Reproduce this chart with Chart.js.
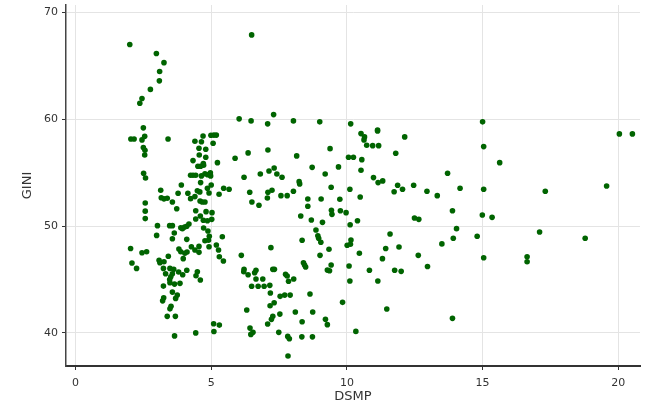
<!DOCTYPE html>
<html>
<head>
<meta charset="utf-8">
<script src="https://cdn.jsdelivr.net/npm/chart.js@4/dist/chart.umd.min.js"></script>
<style>
  body { margin: 0; background: #fff; }
  #wrap { width: 660px; height: 404px; }
</style>
</head>
<body>
<div id="wrap"><canvas id="chartCanvas" width="660" height="404"></canvas></div>
<script>
// DSMP (x) og GINI (y)
let dsmp = [
  2.0, 2.98, 3.26, 3.10, 3.09, 2.76, 2.45, 2.37, 2.50, 6.49, 6.03, 6.47, 7.08, 7.30, 8.03, 9.0, 10.14, 11.13, 15.0,
  2.04, 2.16, 2.45, 2.55, 2.5, 2.56, 2.55, 2.51, 2.58, 2.57, 2.57, 2.57, 2.03,
  3.41, 4.40, 4.70, 4.99, 5.10, 5.19, 4.64, 5.07, 4.55, 4.80, 4.56, 4.80, 4.33, 4.71, 5.23, 4.51, 4.61, 4.72,
  4.24, 4.33, 4.43, 4.64, 4.77, 4.87, 4.97, 4.98, 4.61, 5.0, 3.90, 5.46, 3.14, 3.78, 4.14, 4.49, 4.58, 4.86,
  4.92, 5.29, 4.40, 4.24, 3.16, 3.26, 3.38, 3.57, 4.59, 4.67, 4.77, 3.73, 4.43, 4.81, 5.03, 4.60, 4.43, 4.71,
  4.86, 5.02, 4.18, 4.02, 4.10, 3.88, 3.94, 3.47, 3.57, 3.02, 4.88, 4.72, 2.99, 3.57, 3.64, 4.10, 4.77, 4.90,
  4.93, 5.41, 4.27, 3.81, 4.55, 4.92, 5.19,
  5.66, 5.88, 6.36, 7.09, 8.15, 8.72, 9.2, 6.21, 6.81, 7.13, 7.32, 7.42, 7.61, 8.24, 8.26, 6.42, 7.09, 7.24,
  7.07, 7.57, 7.80, 8.03, 6.5, 6.76, 8.56, 9.05, 8.56, 8.30, 8.69, 9.1, 8.86, 8.93, 8.96, 9.04, 8.35, 7.2,
  10.52, 10.65, 10.63, 11.13, 12.13, 10.73, 10.95, 11.17, 9.38, 11.80, 10.06, 10.24, 10.55, 9.69, 10.52,
  10.98, 11.15, 11.32, 11.87, 12.46, 11.74, 12.05, 9.42, 10.11, 10.49, 9.74, 9.43, 9.45, 9.76, 9.97, 10.39,
  10.12, 12.49, 12.65, 11.59, 10.15, 10.13, 10.01, 11.43, 11.92, 9.34,
  15.04, 15.63, 13.71, 12.95, 13.33, 14.17, 15.04, 17.31, 19.57, 20.04, 20.52, 13.89, 14.99, 15.35, 14.04,
  13.92, 13.5, 14.8, 17.10, 18.78,
  2.45, 2.08, 2.25,
  2.62, 3.42, 3.08, 3.11, 3.26, 3.88, 4.03, 4.11, 4.40, 4.55, 3.97, 5.27, 5.30, 5.45, 3.24, 3.32, 3.48, 3.62,
  3.57, 3.51, 3.47, 3.48, 3.65, 3.85, 3.80, 3.95, 4.10, 4.49, 4.44, 4.60, 3.24, 3.57, 3.75, 3.69, 3.25, 3.21,
  3.52, 3.48, 3.38, 3.68, 3.65, 4.43, 5.09, 5.30, 5.10,
  6.11, 9.01, 10.46, 11.31, 6.21, 6.20, 6.36, 6.60, 6.65, 7.27, 7.33, 7.74, 7.80, 7.85, 8.04, 8.40, 8.44, 8.48,
  9.28, 9.36, 9.42, 10.08, 10.83, 10.11, 11.14, 6.65, 6.90, 6.49, 6.73, 6.95, 7.16, 7.18, 7.54, 7.71, 7.91,
  8.64, 9.84, 7.32, 7.17, 6.31, 7.53, 8.10, 8.74, 7.27, 7.22, 7.08, 8.35, 9.21, 9.28, 6.43, 6.54, 6.46, 7.49,
  7.82, 7.88, 8.34, 8.73, 10.33, 7.83,
  12.63, 11.76, 12.0, 12.97, 15.04, 16.64, 16.64, 11.47, 13.89
]
let gini = [
  67.0, 66.16, 65.3, 64.47, 63.6, 62.8, 61.94, 61.5, 59.2, 67.9, 60.04, 59.85, 59.57, 60.44, 59.85, 59.76, 59.57, 59.0, 59.76,
  58.16, 58.16, 58.07, 58.4, 57.35, 57.1, 56.66, 54.95, 54.5, 52.16, 51.4, 50.7, 47.9,
  58.16, 57.95, 58.44, 58.5, 58.52, 58.52, 57.9, 57.76, 57.29, 57.2, 56.66, 56.45, 56.13, 55.85, 55.94, 55.6, 55.6, 55.7,
  54.76, 54.76, 54.76, 54.7, 54.9, 54.8, 55.0, 54.7, 54.07, 53.85, 53.85, 53.54, 53.36, 53.07, 53.07, 53.3, 53.2, 53.54,
  53.1, 52.98, 52.76, 52.57, 52.65, 52.55, 52.6, 52.26, 52.35, 52.26, 52.26, 51.63, 51.44, 51.35, 51.26, 50.95, 50.66, 50.54,
  50.5, 50.63, 50.2, 49.92, 49.98, 49.85, 49.76, 50.04, 50.04, 50.04, 49.54, 49.82, 49.13, 48.82, 49.35, 48.76, 48.62, 48.68,
  49.05, 49.0, 48.07, 47.85, 48.1, 48.07, 48.23,
  53.45, 56.35, 56.85, 57.13, 56.57, 55.5, 54.88, 54.57, 54.88, 55.16, 55.44, 54.88, 54.57, 54.16, 53.95, 53.17, 53.17, 53.36,
  52.63, 52.85, 52.85, 53.26, 52.26, 51.95, 52.54, 52.54, 51.86, 50.95, 50.57, 50.35, 49.63, 49.1, 48.85, 48.48, 48.67, 47.98,
  58.66, 58.35, 58.07, 58.9, 58.35, 57.57, 57.53, 57.53, 57.25, 56.82, 56.45, 56.45, 56.22, 55.54, 55.23,
  54.54, 54.07, 54.23, 53.82, 53.82, 53.22, 53.45, 53.64, 53.45, 52.73, 52.51, 51.48, 51.1, 51.44, 51.26, 50.5,
  50.13, 50.76, 50.63, 49.26, 48.7, 48.3, 48.2, 47.9, 48.04, 47.83,
  57.44, 55.94, 54.95, 53.26, 52.85, 53.54, 53.45, 53.26, 53.76, 58.63, 58.63, 51.44, 51.04, 50.82, 49.76,
  48.86, 48.33, 49.05, 49.45, 48.86,
  47.5, 46.54, 46.04,
  47.6, 47.17, 46.8, 46.57, 46.66, 47.6, 47.45, 47.57, 47.76, 47.54, 46.95, 47.76, 47.13, 46.73, 46.04, 45.54, 46.04, 45.95,
  45.54, 45.26, 45.0, 44.7, 44.57, 44.64, 45.7, 45.45, 45.86, 45.73, 45.35, 44.95, 44.38, 43.82, 43.54, 43.23, 43.29, 43.0,
  42.5, 42.25, 41.55, 41.55, 39.72, 40.0, 40.85, 40.73, 40.13,
  47.26, 47.26, 47.45, 46.95, 45.95, 45.73, 45.44, 45.63, 45.86, 45.95, 45.95, 45.48, 45.32, 44.83, 45.04, 46.57, 46.35, 46.17,
  45.88, 45.82, 46.35, 46.26, 45.86, 44.86, 44.86, 45.04, 45.04, 44.36, 44.36, 44.36, 44.45, 43.73, 43.42, 43.54, 43.54,
  43.64, 42.86, 42.82, 42.54, 42.14, 41.76, 41.95, 41.95, 41.55, 41.27, 40.83, 41.04, 41.27, 40.77, 40.45, 40.05, 39.86, 40.05,
  39.67, 39.45, 39.63, 39.63, 40.14, 37.83,
  47.26, 45.86, 45.76, 46.22, 47.03, 47.13, 46.66, 42.23, 41.36
]
let xTicks = [0, 5, 10, 15, 20]
let yTicks = [40, 50, 60, 70]

let chart

function setup() {
  let points = dsmp.map((x, i) => ({ x: x, y: gini[i] }))
  showChart(points)
}

function showChart(points) {
  chart && chart.destroy()
  chart = new Chart(document.getElementById('chartCanvas'), {
    type: 'scatter',
    data: {
      datasets: [{
        label: 'GINI',
        data: points,
        backgroundColor: '#006400',
        borderColor: '#006400',
        borderWidth: 0,
        pointRadius: 2.8
      }]
    },
    options: {
      responsive: false,
      animation: false,
      layout: { padding: { top: 5, right: 20, left: 0, bottom: 0 } },
      plugins: {
        legend: { display: false },
        tooltip: { enabled: false }
      },
      scales: {
        x: {
          type: 'linear',
          min: -0.35,
          max: 20.8,
          afterBuildTicks: s => { s.ticks = xTicks.map(v => ({ value: v })) },
          afterFit: s => { s.height = 38; s.paddingLeft = 0; s.paddingRight = 0 },
          grid: { color: '#e4e4e4', tickColor: '#333', tickLength: 4 },
          border: { color: '#333', width: 2 },
          ticks: { color: '#333', font: { family: 'DejaVu Sans', size: 11 }, padding: 7 },
          title: { display: true, text: 'DSMP', color: '#333', font: { family: 'DejaVu Sans', size: 13 }, padding: 0 }
        },
        y: {
          type: 'linear',
          min: 36.9,
          max: 70.7,
          afterBuildTicks: s => { s.ticks = yTicks.map(v => ({ value: v })) },
          afterFit: s => { s.width = 66; s.paddingTop = 0; s.paddingBottom = 0 },
          grid: { color: '#e4e4e4', tickColor: '#333', tickLength: 4 },
          border: { color: '#444', width: 1.5 },
          ticks: { color: '#333', font: { family: 'DejaVu Sans', size: 11 }, padding: 4 },
          title: { display: true, text: 'GINI', color: '#333', font: { family: 'DejaVu Sans', size: 13 }, padding: { top: 20, bottom: 0 } }
        }
      }
    }
  })
}

setup()
</script>
</body>
</html>
